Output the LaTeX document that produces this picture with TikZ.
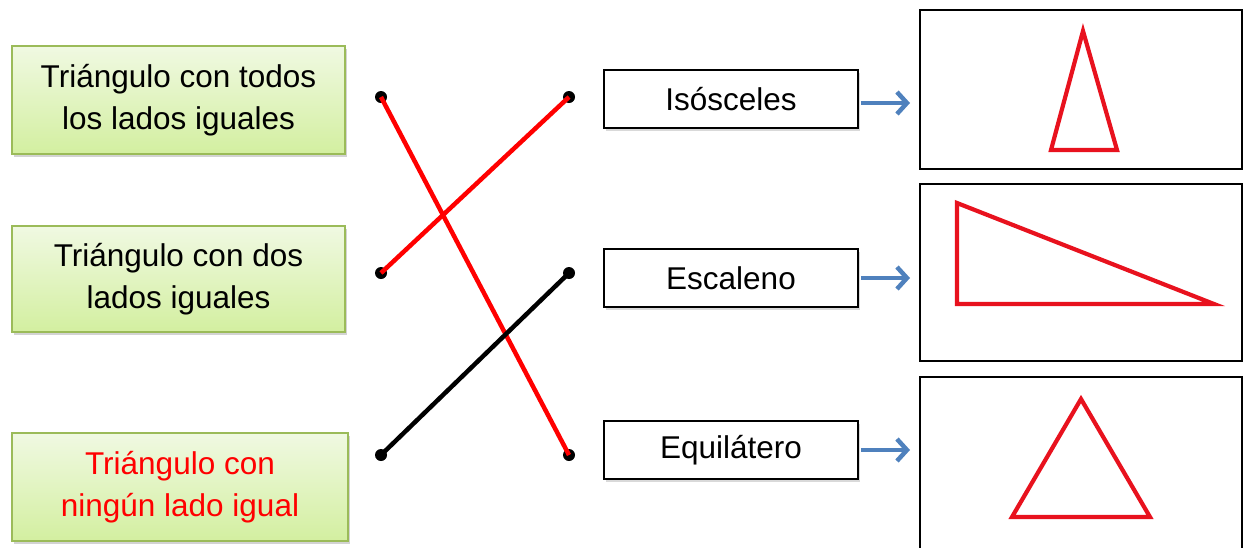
\documentclass[tikz,border=0pt]{standalone}
\usepackage{fontspec}
\setmainfont{Liberation Sans}
\usetikzlibrary{shadows,arrows.meta}
\definecolor{gtop}{HTML}{F0F9E2}
\definecolor{gbot}{HTML}{D3EFA0}
\definecolor{gborder}{HTML}{9BBB59}
\definecolor{arrblue}{HTML}{4F81BD}
\definecolor{tri}{HTML}{E8121E}
\tikzset{
  greenbox/.style={draw=gborder, line width=1.5pt, top color=gtop, bottom color=gbot,
    minimum width=333pt, align=center, font=\fontsize{31.5}{42}\selectfont,
    drop shadow={shadow xshift=2pt, shadow yshift=-3pt, opacity=0.35}},
  namebox/.style={draw=black, line width=1.5pt, fill=white, minimum width=254pt, minimum height=58pt,
    font=\fontsize{31.5}{36}\selectfont,
    drop shadow={shadow xshift=2pt, shadow yshift=-3pt, opacity=0.3}},
  picbox/.style={draw=black, line width=1.8pt},
  dotn/.style={circle, fill=black, inner sep=0pt, minimum size=12pt},
  link/.style={line width=4.5pt},
  blu/.style={draw=arrblue, line width=4.5pt, -{Straight Barb[length=10pt,width=22pt,line width=4.5pt]}},
  tri/.style={draw=tri, line width=4.2pt, line join=miter}
}
\begin{document}
\begin{tikzpicture}[x=1pt,y=-1pt]
\useasboundingbox (0,0) rectangle (1250,547);
\node[greenbox, minimum height=108pt] (g1) at (178.5,100) {Triángulo con todos\\los lados iguales};
\node[greenbox, minimum height=106pt] (g2) at (178.5,279) {Triángulo con dos\\lados iguales};
\node[greenbox, minimum height=108pt, minimum width=336pt, text=red] (g3) at (180,487) {Triángulo con\\ningún lado igual};

\node[dotn] (l1) at (381,97) {};
\node[dotn] (l2) at (381,273) {};
\node[dotn] (l3) at (381,455) {};
\node[dotn] (r1) at (569,97) {};
\node[dotn] (r2) at (569,273) {};
\node[dotn] (r3) at (569,455) {};

\draw[link, red] (l1.center) -- (r3.center);
\draw[link, red] (l2.center) -- (r1.center);
\draw[link, black] (l3.center) -- (r2.center);

\node[namebox] (n1) at (731,99) {Isósceles};
\node[namebox] (n2) at (731,278) {Escaleno};
\node[namebox] (n3) at (731,450) {Equilátero};

\node[picbox, minimum width=322pt, minimum height=159pt] (p1) at (1081,89.5) {};
\node[picbox, minimum width=322pt, minimum height=177pt] (p2) at (1081,272.5) {};
\node[picbox, minimum width=322pt, minimum height=172pt] (p3) at (1081,463) {};

\coordinate (a1) at (910,103);
\coordinate (a2) at (910,278);
\coordinate (a3) at (910,450);
\draw[blu] (n1.east) ++(2,4) -- (a1);
\draw[blu] (n2.east) ++(2,0) -- (a2);
\draw[blu] (n3.east) ++(2,0) -- (a3);

\draw[tri] (1083,31) -- (1117,150) -- (1051,150) -- cycle;
\draw[tri] (957,203) -- (1214,304) -- (957,304) -- cycle;
\draw[tri] (1081,399) -- (1150,517) -- (1012,517) -- cycle;
\end{tikzpicture}
\end{document}
